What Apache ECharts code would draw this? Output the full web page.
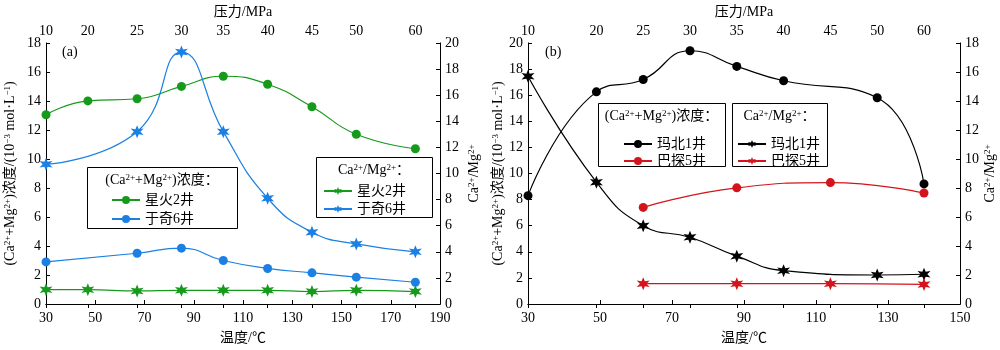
<!DOCTYPE html>
<html>
<head>
<meta charset="utf-8">
<script src="https://cdn.jsdelivr.net/npm/echarts@6/dist/echarts.min.js"></script>
<style>
  html, body { margin: 0; padding: 0; background: #fff; }
  #main { width: 1000px; height: 350px; }
</style>
</head>
<body>
<div id="main"></div>
<script>
// (a) 星火2井 / 于奇6井
var tempA = [30, 47, 67, 85, 102, 120, 138, 156, 180];
var pressA = ['10', '20', '25', '30', '35', '40', '45', '50', '60'];
var xinghuo2Conc = [13.05, 14.0, 14.15, 15.0, 15.7, 15.15, 13.6, 11.7, 10.7];
var yuqi6Conc = [2.9, null, 3.5, 3.85, 3.0, 2.45, 2.15, 1.85, 1.5];
var xinghuo2Ratio = [1.1, 1.1, 1.0, 1.05, 1.05, 1.05, 0.95, 1.05, 0.95];
var yuqi6Ratio = [10.7, null, 13.2, 19.3, 13.2, 8.1, 5.5, 4.6, 4.0];

// (b) 玛北1井 / 巴探5井
var tempB = [30, 49, 62, 75, 88, 101, 114, 127, 140];
var pressB = ['10', '20', '25', '30', '35', '40', '45', '50', '60'];
var mabei1Conc = [8.3, 16.25, 17.2, 19.4, 18.2, 17.1, null, 15.8, 9.2];
var batan5Conc = [null, null, 7.4, null, 8.9, null, 9.3, null, 8.5];
var mabei1Ratio = [15.7, 8.4, 5.4, 4.6, 3.3, 2.3, null, 2.0, 2.05];
var batan5Ratio = [null, null, 1.4, null, 1.4, null, 1.4, null, 1.35];

var GREEN = '#169a1c';
var BLUE = '#1a80e3';
var RED = '#d4141c';
var BLACK = '#000';
var FONT = "'Liberation Serif', 'Noto Sans CJK SC', serif";

// 把温度和数值拼成点，跳过空值
function pairs(xs, ys) {
    var arr = [];
    for (var i = 0; i < xs.length; i++) {
        if (ys[i] != null) arr.push([xs[i], ys[i]]);
    }
    return arr;
}

// 六角星标记
function starPath() {
    var pts = [];
    for (var i = 0; i < 12; i++) {
        var r = i % 2 === 0 ? 10 : 4.4;
        var a = -Math.PI / 2 + i * Math.PI / 6;
        pts.push((r * Math.cos(a)).toFixed(2) + ' ' + (r * Math.sin(a)).toFixed(2));
    }
    return 'path://M' + pts.join(' L') + ' Z';
}
var STAR = starPath();

var rich = {
    s: { fontSize: 9, fontFamily: FONT, verticalAlign: 'top', padding: [0, 0, 5, 0] }
};
var concName = '(Ca{s|2+}+Mg{s|2+})浓度/(10{s|−3} mol·L{s|−1})';
var ratioName = 'Ca{s|2+}/Mg{s|2+}';

function bottomAxis(gi, max) {
    return {
        type: 'value', gridIndex: gi, position: 'bottom',
        min: 30, max: max, interval: 20,
        name: '温度/℃', nameLocation: 'middle', nameGap: 27,
        nameTextStyle: { fontFamily: FONT, fontSize: 14, color: BLACK },
        axisLine: { lineStyle: { color: BLACK, width: 1 } },
        axisTick: { inside: true, length: 4, lineStyle: { color: BLACK } },
        axisLabel: { margin: 7, fontFamily: FONT, fontSize: 14, color: BLACK },
        splitLine: { show: false }
    };
}

function topAxis(gi, max, temps, labels) {
    return {
        type: 'value', gridIndex: gi, position: 'top',
        min: 30, max: max,
        name: '压力/MPa', nameLocation: 'middle', nameGap: 23,
        nameTextStyle: { fontFamily: FONT, fontSize: 14, color: BLACK },
        axisLine: { lineStyle: { color: BLACK, width: 1 } },
        axisTick: { inside: true, length: 4, customValues: temps, lineStyle: { color: BLACK } },
        axisLabel: {
            margin: 5, fontFamily: FONT, fontSize: 14, color: BLACK,
            customValues: temps,
            formatter: function (v) { return labels[temps.indexOf(v)]; }
        },
        splitLine: { show: false }
    };
}

function yAxis(gi, pos, max, name, gap) {
    return {
        type: 'value', gridIndex: gi, position: pos,
        min: 0, max: max, interval: 2,
        name: name, nameLocation: 'middle', nameGap: gap, nameRotate: 90,
        nameTextStyle: { fontFamily: FONT, fontSize: 14, color: BLACK, rich: rich },
        axisLine: { show: true, lineStyle: { color: BLACK, width: 1 } },
        axisTick: { show: true, inside: true, length: 4, lineStyle: { color: BLACK } },
        axisLabel: { margin: 5, fontFamily: FONT, fontSize: 14, color: BLACK },
        splitLine: { show: false }
    };
}

function lineSeries(name, color, symbol, size, xi, yi, data) {
    return {
        name: name, type: 'line', xAxisIndex: xi, yAxisIndex: yi,
        data: data, smooth: 0.5,
        symbol: symbol, symbolSize: size,
        lineStyle: { color: color, width: 1.2 },
        itemStyle: { color: color },
        emphasis: { disabled: true },
        z: 3
    };
}

function legendBox(left, top, gap, names) {
    return {
        orient: 'vertical', left: left, top: top, padding: 0,
        itemWidth: 28, itemHeight: 10, itemGap: gap,
        selectedMode: false,
        data: names,
        formatter: function (n) { return n.replace('r:', ''); },
        textStyle: { fontFamily: FONT, fontSize: 14, color: BLACK, lineHeight: 14 }
    };
}

function box(x, y, w, h, header) {
    return [{
        type: 'rect', shape: { x: x + 0.5, y: y + 0.5, width: w, height: h },
        style: { fill: '#fff', stroke: BLACK, lineWidth: 1 }, z: 1
    }, {
        type: 'text', x: x + w / 2, y: y + 13, z: 5,
        style: {
            text: header, align: 'center', verticalAlign: 'middle',
            fontFamily: FONT, fontSize: 14, fill: BLACK, rich: rich
        }
    }];
}

var option = {
    animation: false,
    backgroundColor: '#fff',
    grid: [
        { left: 46, top: 36, width: 394, height: 270 },
        { left: 528, top: 35, width: 432, height: 271 }
    ],
    xAxis: [
        bottomAxis(0, 190),
        topAxis(0, 190, tempA, pressA),
        bottomAxis(1, 150),
        topAxis(1, 150, tempB, pressB)
    ],
    yAxis: [
        yAxis(0, 'left', 18, concName, 29),
        yAxis(0, 'right', 20, ratioName, 27),
        yAxis(1, 'left', 20, concName, 20),
        yAxis(1, 'right', 18, ratioName, 23)
    ],
    legend: [
        legendBox(111, 193, 5, ['星火2井', '于奇6井']),
        legendBox(323, 184, 4, ['r:星火2井', 'r:于奇6井']),
        legendBox(623, 137, 3, ['玛北1井', '巴探5井']),
        legendBox(737, 137, 3, ['r:玛北1井', 'r:巴探5井'])
    ],
    graphic: [].concat(
        box(87, 167, 150, 61, '(Ca{s|2+}+Mg{s|2+})浓度：'),
        box(316, 157, 116, 60, 'Ca{s|2+}/Mg{s|2+}：'),
        box(598, 103, 127, 63, '(Ca{s|2+}+Mg{s|2+})浓度：'),
        box(732, 103, 95, 63, 'Ca{s|2+}/Mg{s|2+}：'),
        [
            { type: 'text', x: 62, y: 45, style: { text: '(a)', fontFamily: FONT, fontSize: 14, fill: BLACK } },
            { type: 'text', x: 545, y: 45, style: { text: '(b)', fontFamily: FONT, fontSize: 14, fill: BLACK } }
        ]
    ),
    series: [
        lineSeries('星火2井', GREEN, 'circle', 9, 0, 0, pairs(tempA, xinghuo2Conc)),
        lineSeries('于奇6井', BLUE, 'circle', 9, 0, 0, pairs(tempA, yuqi6Conc)),
        lineSeries('r:星火2井', GREEN, STAR, 13, 0, 1, pairs(tempA, xinghuo2Ratio)),
        lineSeries('r:于奇6井', BLUE, STAR, 13, 0, 1, pairs(tempA, yuqi6Ratio)),
        lineSeries('玛北1井', BLACK, 'circle', 9, 2, 2, pairs(tempB, mabei1Conc)),
        lineSeries('巴探5井', RED, 'circle', 9, 2, 2, pairs(tempB, batan5Conc)),
        lineSeries('r:玛北1井', BLACK, STAR, 13, 2, 3, pairs(tempB, mabei1Ratio)),
        lineSeries('r:巴探5井', RED, STAR, 13, 2, 3, pairs(tempB, batan5Ratio))
    ]
};

var myChart = echarts.init(document.getElementById('main'));
myChart.setOption(option);
window.onresize = myChart.resize;
</script>
</body>
</html>
